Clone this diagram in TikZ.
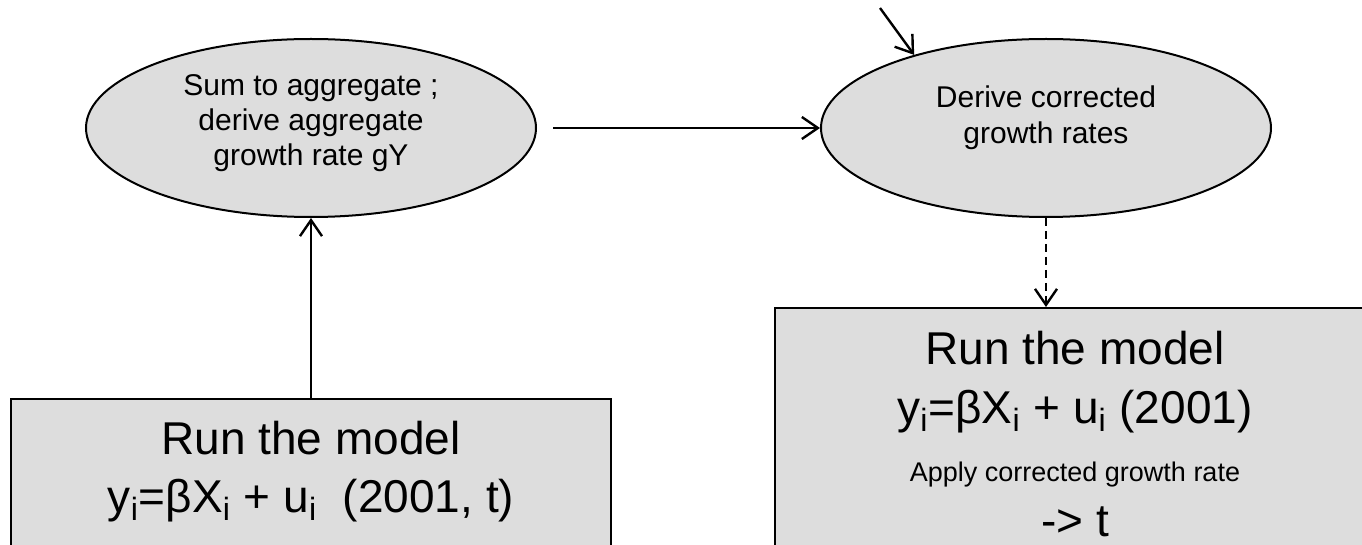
\documentclass[tikz,border=0pt]{standalone}
\usepackage{fontspec}
\setmainfont{Liberation Sans}
\usetikzlibrary{arrows.meta,shapes.geometric}
\definecolor{boxgrey}{HTML}{DDDDDD}
\begin{document}
\begin{tikzpicture}[x=0.5pt,y=-0.5pt,
  shapeline/.style={draw=black,line width=1pt,fill=boxgrey},
  oval/.style={shapeline,ellipse,minimum width=225pt,minimum height=89pt,inner sep=0pt},
  panel/.style={shapeline,rectangle,minimum width=300pt,inner sep=0pt},
  arr/.style={line width=1.2pt,-{Straight Barb[length=8pt,width=11pt,line width=1.2pt]}},
  small/.style={font=\fontsize{15pt}{18pt}\selectfont,anchor=base,inner sep=0pt},
  medium/.style={font=\fontsize{13.5pt}{16pt}\selectfont,anchor=base,inner sep=0pt},
  big/.style={font=\fontsize{23pt}{28pt}\selectfont,anchor=base,inner sep=0pt}]
\useasboundingbox (0,0) rectangle (1362,545);
\clip (0,0) rectangle (1362,545);
% shapes
\node[oval] (lell) at (311,128) {};
\node[oval] (rell) at (1046,128) {};
\node[panel,minimum height=80.5pt] (lbox) at (311,479.5) {};
\node[panel,minimum height=126pt] (rbox) at (1075,434) {};
% ellipse texts
\node[small] (l1) at (311,96) {Sum to aggregate ;};
\node[small] (l2) at (311,131) {derive aggregate};
\node[small] (l3) at (311,166) {growth rate gY};
\node[small] (r1) at (1046,108) {Derive corrected};
\node[small] (r2) at (1046,144) {growth rates};
% box texts
\node[big] (lb1) at (311,455) {Run the model};
\node[big] (lb2) at (311,513) {y\textsubscript{i}=βX\textsubscript{i} + u\textsubscript{i}\ \ (2001, t)};
\node[big] (rb1) at (1075,365) {Run the model};
\node[big] (rb2) at (1075,424) {y\textsubscript{i}=βX\textsubscript{i} + u\textsubscript{i} (2001)};
\node[medium] (rb3) at (1075,482) {Apply corrected growth rate};
\node[big] (rb4) at (1075,537) {-> t};
% connectors
\coordinate (src) at (880,8);
\draw[arr] (src) -- (rell.151);
\draw[arr,shorten <=8pt] (lell.east) -- (rell.west);
\draw[arr] (lbox.north) -- (lell.south);
\draw[arr,dash pattern=on 4pt off 2.5pt] (rell.south) -- (rell.south |- rbox.north);
\end{tikzpicture}
\end{document}
